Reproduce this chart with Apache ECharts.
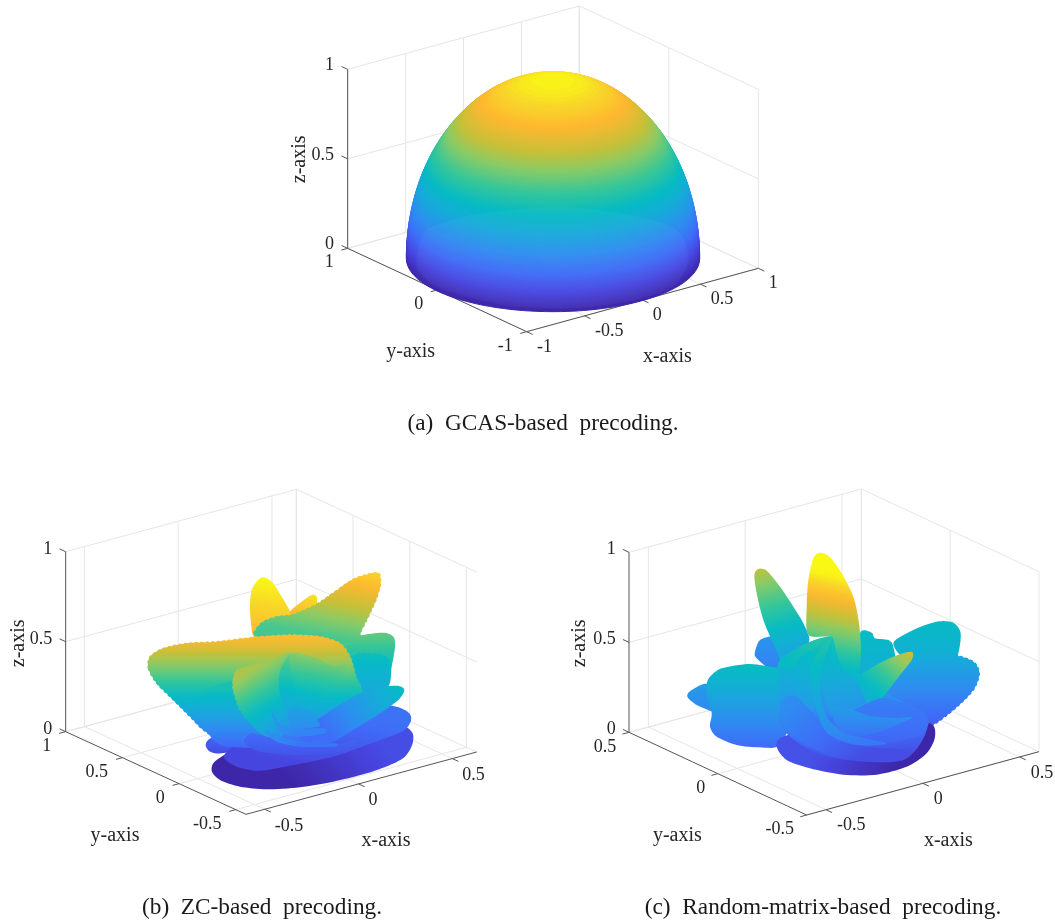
<!DOCTYPE html>
<html><head><meta charset="utf-8">
<style>html,body{margin:0;padding:0;background:#fff}#c{width:1055px;height:920px}</style>
<script src="https://cdn.jsdelivr.net/npm/echarts@6/dist/echarts.min.js"></script>
</head><body><div id="c"></div>
<script>
// ---------- axis ticks (axis units) ----------
const xTicksA=[-1,-0.5,0,0.5,1], yTicksA=[-1,0,1], zTicks=[0,0.5,1];
const xTicksB=[-0.5,0,0.5], yTicksB=[-0.5,0,0.5,1];
const xTicksC=[-0.5,0,0.5], yTicksC=[-0.5,0,0.5];
const captions=["(a)  GCAS-based  precoding.","(b)  ZC-based  precoding.","(c)  Random-matrix-based  precoding."];
const axisNames=["x-axis","y-axis","z-axis"];
// ---------- colour scale: height -> colour ----------
const scaleZ=[0,0.1,0.2,0.3,0.4,0.5,0.6,0.7,0.77,0.87,0.94,1];
const scaleColor=['#3e26a8','#4745e0','#3f6cf8','#2e8df0','#18a8dc','#06bbc4','#35c699','#8acb66','#c4c039','#feb82f','#f8d52a','#f9f815'];
// ---------- panel (a): hemisphere, height and relative radius ----------
const domeZ=[0,.01,.02,.03,.04,.05,.06,.07,.08,.09,.1,.11,.12,.13,.14,.15,.16,.17,.18,.19,.2,.21,.22,.23,.24,.25,.26,.27,.28,.29,.3,.31,.32,.33,.34,.35,.36,.37,.38,.39,.4,.41,.42,.43,.44,.45,.46,.47,.48,.49,.5,.51,.52,.53,.54,.55,.56,.57,.58,.59,.6,.61,.62,.63,.64,.65,.66,.67,.68,.69,.7,.71,.72,.73,.74,.75,.76,.77,.78,.79,.8,.81,.82,.83,.84,.85,.86,.87,.88,.89,.9,.91,.92,.93,.94,.95,.96,.97,.98,.99];
const domeR=[1,1,1,1,.999,.999,.998,.998,.997,.996,.995,.994,.993,.992,.99,.989,.987,.985,.984,.982,.98,.978,.975,.973,.971,.968,.966,.963,.96,.957,.954,.951,.947,.944,.94,.937,.933,.929,.925,.921,.917,.912,.908,.903,.898,.893,.888,.883,.877,.872,.866,.86,.854,.848,.842,.835,.828,.822,.815,.807,.8,.792,.785,.777,.768,.76,.751,.742,.733,.724,.714,.704,.694,.683,.673,.661,.65,.638,.626,.613,.6,.586,.572,.558,.543,.527,.51,.493,.475,.456,.436,.415,.392,.368,.341,.312,.28,.243,.199,.141];
const domeFront=[[430,700],[470,675],[600,640],[815,622],[1000,635],[1150,670],[1205,705],[1225,780],[1190,850],[1120,885],[1000,912],[880,924],[800,924],[700,919],[600,899],[480,865],[420,820],[410,770]];
// ---------- panel (b) lobes, traced in the panel's plane ----------
const bDark=[[635,872],[650,840],[740,800],[1000,780],[1190,740],[1235,755],[1238,790],[1215,830],[1170,855],[1100,880],[1000,905],[900,922],[800,928],[720,920],[660,900]];
const bBackLeft=[[617,795],[632,775],[700,760],[730,800],[665,820],[630,815]];
const bTall=[[757,325],[785,292],[815,305],[842,345],[872,398],[870,420],[800,460],[762,472],[752,420],[750,370]];
const bSmall=[[870,395],[905,365],[935,345],[950,350],[950,375],[940,390],[880,415]];
const bRightUp=[[770,470],[768,448],[790,425],[830,410],[880,403],[950,372],[1000,338],[1060,297],[1110,281],[1137,280],[1142,310],[1130,355],[1110,400],[1085,450],[1060,490],[900,510]];
const bRight1=[[1020,485],[1090,465],[1150,458],[1180,470],[1185,500],[1175,560],[1160,625],[1060,640]];
const bRight2=[[1060,530],[1120,522],[1150,525],[1170,550],[1165,590],[1152,625],[1080,640]];
const bBlue=[[672,832],[700,800],[800,760],[1000,705],[1120,675],[1190,680],[1228,700],[1232,725],[1205,755],[1100,795],[1000,830],[880,855],[780,872],[710,860]];
const bLeft=[[445,565],[450,530],[490,505],[560,490],[650,485],[760,472],[870,465],[960,470],[1020,490],[1050,530],[1068,590],[1085,650],[1020,770],[800,795],[660,775],[610,750],[570,710],[520,660],[470,610]];
const bLowRight=[[980,700],[1060,650],[1120,625],[1190,617],[1213,630],[1195,660],[1140,700],[1060,750],[1000,785],[930,800],[900,760]];
const bMidLeft=[[590,670],[600,650],[630,625],[700,605],[760,640],[780,760],[800,800],[680,800],[640,780],[620,750],[590,700]];
const bCenter=[[700,600],[710,570],[760,555],[810,545],[870,520],[880,620],[880,720],[850,765],[800,770],[760,740],[720,690],[700,630]];
const bPetal=[[870,520],[950,535],[1000,558],[1042,548],[1030,580],[1000,610],[960,645],[915,672],[890,640],[880,610]];
const bThin=[[868,525],[840,575],[838,630],[860,690],[915,672],[885,615]];
const bInner=[[865,695],[890,680],[930,695],[955,725],[955,740],[880,745],[865,720]];
const bFold=[[815,695],[840,730],[890,745],[970,745],[975,760],[900,770],[850,760],[825,730]];
const bOval=[[732,780],[755,760],[800,770],[870,790],[1000,795],[1065,780],[1060,800],[990,820],[870,825],[780,815],[740,795]];
const bSweep=[[795,752],[860,775],[940,790],[1010,790],[1000,800],[900,800],[830,785]];
// ---------- panel (c) lobes ----------
const cBackBlob=[[585,515],[600,480],[640,470],[660,500],[700,560],[640,572],[590,535]];
const cTallLeft=[[583,285],[595,267],[620,272],[660,320],[700,380],[730,430],[748,480],[720,520],[670,545],[640,490],[610,420],[590,340]];
const cRightUp=[[1000,490],[1060,450],[1130,425],[1180,428],[1202,460],[1195,520],[1180,545],[1050,545]];
const cRightBig=[[1010,560],[1090,530],[1180,525],[1240,545],[1258,580],[1240,630],[1180,690],[1100,745],[1000,760],[950,650]];
const cBackTop=[[900,460],[935,458],[945,475],[985,480],[1000,500],[1000,560],[900,595]];
const cFarLeft=[[382,650],[395,630],[445,613],[480,690],[460,695],[410,675]];
const cLeftBlob=[[440,612],[450,590],[485,565],[570,552],[660,565],[720,570],[700,700],[660,795],[600,802],[530,795],[470,770],[450,740],[455,700],[440,640]];
const cDark=[[650,800],[670,770],[800,740],[1000,740],[1110,730],[1125,770],[1100,820],[1040,860],[950,884],[850,884],[750,865],[680,840]];
const cBase=[[660,540],[815,470],[900,590],[1000,650],[1105,720],[1030,840],[800,830],[670,750],[660,650]];
const cTallFront=[[740,380],[745,300],[760,235],[780,218],[810,232],[845,280],[880,350],[897,430],[903,520],[895,590],[880,620],[850,590],[825,520],[815,472],[745,465]];
const cRightPetal=[[885,600],[940,560],[1000,530],[1040,517],[1058,517],[1055,540],[1020,585],[970,650],[920,700],[890,660]];
const cFan1=[[660,525],[680,545],[730,495],[815,470],[770,530],[700,565],[665,560]];
const cFan2=[[815,470],[770,500],[720,530],[700,590],[700,630],[730,680],[750,710],[765,660],[750,610],[755,550]];
const cFan3=[[815,470],[765,530],[750,580],[755,640],[780,720],[810,765],[890,795],[980,790],[860,760],[800,710],[780,630],[790,550]];
const cFan4=[[815,470],[795,540],[785,610],[810,700],[870,720],[930,700],[885,600],[850,570],[830,520]];
const cFan5=[[815,470],[835,560],[885,650],[925,700],[870,640],[825,560]];
const cLow1=[[660,680],[680,650],[710,650],[740,680],[770,710],[800,760],[850,790],[980,805],[1035,810],[1030,840],[940,845],[820,830],[730,790],[675,740]];
const cLow2=[[880,690],[960,655],[1030,668],[1090,695],[1105,730],[1080,765],[1000,785],[900,795],[820,770],[800,720]];
const cTip=[[815,685],[835,678],[880,690],[930,708],[1000,714],[1058,712],[1010,735],[960,755],[900,768],[860,762],[825,730]];

// painter's order, with the plane height and height value at both ends of the colour ramp
const lobesB=[
 {p:bTall,g:[760,470,.87,785,292,1]},{p:bSmall,g:[900,415,.87,940,345,.96]},
 {p:bRight1,g:[1100,640,.4,1100,458,.66]},{p:bRight2,g:[1100,640,.4,1100,522,.52],s:1},
 {p:bRightUp,g:[1080,490,.62,1120,280,.93],s:1},
 {p:bBackLeft,g:[660,820,.12,660,760,.2]},{p:bDark,g:[900,928,0,1100,745,.12]},{p:bBlue,g:[950,870,.1,1000,675,.22]},
 {p:bLeft,g:[750,790,.2,750,470,.88],s:1},{p:bLowRight,g:[1000,790,.2,1200,617,.5]},
 {p:bMidLeft,g:[650,800,.19,650,625,.54]},{p:bCenter,g:[700,600,.74,829,818,.24],s:1},
 {p:bThin,g:[860,700,.38,868,525,.66]},{p:bPetal,g:[915,672,.44,940,530,.7]},
 {p:bInner,g:[900,745,.3,900,680,.38]},{p:bFold,g:[890,770,.27,820,695,.35]},{p:bOval,g:[900,825,.14,900,760,.2]},{p:bSweep,g:[900,800,.23,820,752,.31]}
];
const lobesC=[
 {p:cBackBlob,g:[640,572,.26,640,470,.33]},{p:cRightUp,g:[1100,545,.42,1100,425,.5]},{p:cBackTop,g:[950,595,.42,950,458,.5]},
 {p:cRightBig,g:[1100,740,.16,1100,525,.42],s:1},{p:cFarLeft,g:[430,695,.28,430,613,.36]},
 {p:cTallLeft,g:[680,545,.36,600,267,.76]},{p:cLeftBlob,g:[560,800,.2,560,552,.52]},
 {p:cDark,g:[1000,884,0,800,760,.13]},{p:cBase,g:[850,840,.12,815,470,.55]},
 {p:cTallFront,g:[800,580,.45,870,250,1.08]},{p:cRightPetal,g:[900,690,.36,1050,517,.78]},
 {p:cFan1,g:[700,565,.5,760,480,.56]},{p:cFan2,g:[730,710,.32,780,490,.54]},{p:cFan4,g:[860,720,.3,815,470,.54]},
 {p:cFan5,g:[900,700,.33,815,470,.56]},{p:cLow2,g:[950,795,.18,950,655,.26]},{p:cLow1,g:[880,850,.12,720,650,.3]},
 {p:cFan3,g:[880,795,.24,800,470,.58]},{p:cTip,g:[900,770,.22,900,680,.36]}
];

// ---------- panels: each grid spans a picture region, 3 axis units per pixel ----------
const panels=[
 {left:280,top:0,w:520,h:380,front:[740,995],ex:[695,-190],ey:[-537,-250],ez:[0,-537],xr:[-1,1],yr:[-1,1],xt:xTicksA,yt:yTicksA,
  zOff:[-41,-12],yOff:[-42,43],xOff:[31,46],names:[[1162,1070],[392,1055],[58,478]],cap:[538,407]},
 {left:0,top:480,w:500,h:380,front:[738,1003],ex:[692,-187],ey:[-541,-248],ez:[0,-540],xr:[-0.6,0.63],yr:[-0.59,1],xt:xTicksB,yt:yTicksB,
  zOff:[-40,-8],yOff:[-43,44],xOff:[30,50],names:[[1158,1082],[345,1068],[55,490]],cap:[257,891],lobes:lobesB},
 {left:560,top:480,w:495,h:380,front:[740,1005],ex:[697,-190],ey:[-533,-248],ez:[0,-540],xr:[-0.6,0.6],yr:[-0.5,0.5],xt:xTicksC,yt:yTicksC,
  zOff:[-40,-10],yOff:[-38,44],xOff:[33,48],names:[[1165,1082],[352,1068],[60,490]],cap:[818,891],lobes:lobesC}
];
function proj(P,x,y,z){
  const a=(x-P.xr[0])/(P.xr[1]-P.xr[0]), b=(y-P.yr[0])/(P.yr[1]-P.yr[0]);
  return [P.front[0]+a*P.ex[0]+b*P.ey[0]+z*P.ez[0], P.front[1]+a*P.ex[1]+b*P.ey[1]+z*P.ez[1]];
}
function colorAt(z){
  z=Math.max(0,Math.min(1,z));
  let i=0; while(i<scaleZ.length-2&&z>scaleZ[i+1])i++;
  const t=(z-scaleZ[i])/(scaleZ[i+1]-scaleZ[i]);
  const h=s=>[1,3,5].map(k=>parseInt(s.substr(k,2),16));
  const A=h(scaleColor[i]),B=h(scaleColor[i+1]);
  return 'rgb('+A.map((v,k)=>Math.round(v+(B[k]-v)*t)).join(',')+')';
}
function wallSegs(P){
  const [x0,x1]=P.xr,[y0,y1]=P.yr,s=[];
  const seg=(a,b)=>s.push([a,b]);
  zTicks.forEach(z=>{seg(proj(P,x0,y1,z),proj(P,x1,y1,z));seg(proj(P,x1,y1,z),proj(P,x1,y0,z));});
  P.xt.forEach(x=>{seg(proj(P,x,y1,0),proj(P,x,y1,1));seg(proj(P,x,y0,0),proj(P,x,y1,0));});
  P.yt.forEach(y=>{seg(proj(P,x1,y,0),proj(P,x1,y,1));seg(proj(P,x0,y,0),proj(P,x1,y,0));});
  seg(proj(P,x1,y1,0),proj(P,x1,y1,1));
  return s;
}
function axisSegs(P){
  const [x0,x1]=P.xr,[y0,y1]=P.yr,s=[];
  const len=v=>Math.hypot(v[0],v[1]), T=20;
  const ux=[P.ex[0]/len(P.ex)*T,P.ex[1]/len(P.ex)*T], uy=[P.ey[0]/len(P.ey)*T,P.ey[1]/len(P.ey)*T];
  s.push([proj(P,x0,y1,0),proj(P,x0,y1,1)],[proj(P,x0,y0,0),proj(P,x0,y1,0)],[proj(P,x0,y0,0),proj(P,x1,y0,0)]);
  P.xt.forEach(x=>{const a=proj(P,x,y0,0);s.push([a,[a[0]-uy[0],a[1]-uy[1]]]);});
  P.yt.forEach(y=>{const a=proj(P,x0,y,0);s.push([a,[a[0]-ux[0],a[1]-ux[1]]]);});
  zTicks.forEach(z=>{const a=proj(P,x0,y1,z);s.push([a,[a[0]+uy[0],a[1]+uy[1]]]);});
  return s;
}
const FONT='"Liberation Serif","Times New Roman",serif';
function segSeries(i,segs,color,width,z){
  return {type:'custom',xAxisIndex:i,yAxisIndex:i,silent:true,z,clip:false,animation:false,
    data:segs.map((_,k)=>[k]),encode:{x:0,y:0},
    renderItem:(p,api)=>{const sg=segs[api.value(0)],a=api.coord(sg[0]),b=api.coord(sg[1]);
      return {type:'line',shape:{x1:a[0],y1:a[1],x2:b[0],y2:b[1]},style:{stroke:color,lineWidth:width}};}};
}
function textSeries(i,items){
  return {type:'custom',xAxisIndex:i,yAxisIndex:i,silent:true,z:6,clip:false,animation:false,
    data:items.map((_,k)=>[k]),encode:{x:0,y:0},
    renderItem:(p,api)=>{const t=items[api.value(0)],a=api.coord(t.at);
      return {type:'text',x:a[0],y:a[1],rotation:t.rot||0,style:{text:t.text,font:t.size+'px '+FONT,fill:'#262626',align:t.align||'center',verticalAlign:'middle'}};}};
}
// rounds a traced outline through its points (closed loop)
function rounded(pts){
  const out=[],n=pts.length,S=8,k=0.42;
  for(let i=0;i<n;i++){
    const a=pts[(i-1+n)%n],b=pts[i],c=pts[(i+1)%n],d=pts[(i+2)%n];
    for(let j=0;j<S;j++){
      const t=j/S,t2=t*t,t3=t2*t,h1=2*t3-3*t2+1,h2=t3-2*t2+t,h3=-2*t3+3*t2,h4=t3-t2;
      out.push([0,1].map(q=>h1*b[q]+h2*k*(c[q]-a[q])+h3*c[q]+h4*k*(d[q]-b[q])));
    }
  }
  return out;
}
function lobeSeries(i,lobes){
  return {type:'custom',xAxisIndex:i,yAxisIndex:i,silent:true,z:3,clip:false,animation:false,
    data:lobes.map((_,k)=>[k]),encode:{x:0,y:0},
    renderItem:(p,api)=>{const L=lobes[api.value(0)],g=L.g,a=api.coord([g[0],g[1]]),b=api.coord([g[3],g[4]]),stops=[];
      for(let n=0;n<=14;n++)stops.push({offset:n/14,color:colorAt(g[2]+(g[5]-g[2])*n/14)});
      const fill=new echarts.graphic.LinearGradient(a[0],a[1],b[0],b[1],stops,true);
      const style={fill};
      if(L.s){style.stroke=fill;style.lineWidth=1.3;style.lineDash=[2,3.5];style.lineCap='round';}
      return {type:'polygon',shape:{points:rounded(L.p).map(q=>api.coord(q))},style};}};
}
function domeSeries(i,P){
  return {type:'custom',xAxisIndex:i,yAxisIndex:i,silent:true,z:3,clip:false,animation:false,
    data:domeZ.map((z,k)=>[z,domeR[k]]),encode:{x:0,y:0},
    renderItem:(p,api)=>{const z=api.value(0),r=api.value(1),c=api.coord(proj(P,0,0,z)),
        e=api.coord([proj(P,0,0,z)[0]+440*r,proj(P,0,0,z)[1]+160*r]);
      const col=colorAt(z);
      return {type:'ellipse',shape:{cx:c[0],cy:c[1],rx:e[0]-c[0],ry:e[1]-c[1]},style:{fill:col,stroke:col,lineWidth:1}};}};
}
const grid=[],xAxis=[],yAxis=[],series=[],title=[];
panels.forEach((P,i)=>{
  grid.push({left:P.left,top:P.top,width:P.w,height:P.h,show:false});
  xAxis.push({type:'value',gridIndex:i,min:0,max:P.w*3,show:false});
  yAxis.push({type:'value',gridIndex:i,min:0,max:P.h*3,inverse:true,show:false});
  series.push(segSeries(i,wallSegs(P),'#e6e6e6',1,1));
  series.push(segSeries(i,axisSegs(P),'#555555',1,2));
  if(P.lobes)series.push(lobeSeries(i,P.lobes));
  else{
    series.push(domeSeries(i,P));
    series.push({type:'custom',xAxisIndex:i,yAxisIndex:i,silent:true,z:4,clip:false,animation:false,data:[[0]],encode:{x:0,y:0},
      renderItem:(p,api)=>({type:'polygon',shape:{points:rounded(domeFront).map(q=>api.coord(q))},style:{fill:'rgba(255,255,255,0.035)'}})});
  }
  const items=[];
  zTicks.forEach(z=>{const a=proj(P,P.xr[0],P.yr[1],z);items.push({text:String(z),at:[a[0]+P.zOff[0],a[1]+P.zOff[1]],size:18,align:'right'});});
  P.yt.forEach(y=>{const a=proj(P,P.xr[0],y,0);items.push({text:String(y),at:[a[0]+P.yOff[0],a[1]+P.yOff[1]],size:18,align:'right'});});
  P.xt.forEach(x=>{const a=proj(P,x,P.yr[0],0);items.push({text:String(x),at:[a[0]+P.xOff[0],a[1]+P.xOff[1]],size:18,align:'left'});});
  axisNames.forEach((n,k)=>items.push({text:n,at:P.names[k],size:20,rot:k==2?Math.PI/2:0}));
  series.push(textSeries(i,items));
  title.push({text:captions[i],left:P.cap[0],top:P.cap[1],textAlign:'center',textStyle:{fontFamily:FONT,fontSize:23.3,fontWeight:'normal',color:'#1a1a1a'}});
});
const chart=echarts.init(document.getElementById('c'),null,{renderer:'canvas'});
chart.setOption({animation:false,backgroundColor:'#fff',title,grid,xAxis,yAxis,series});
</script></body></html>
